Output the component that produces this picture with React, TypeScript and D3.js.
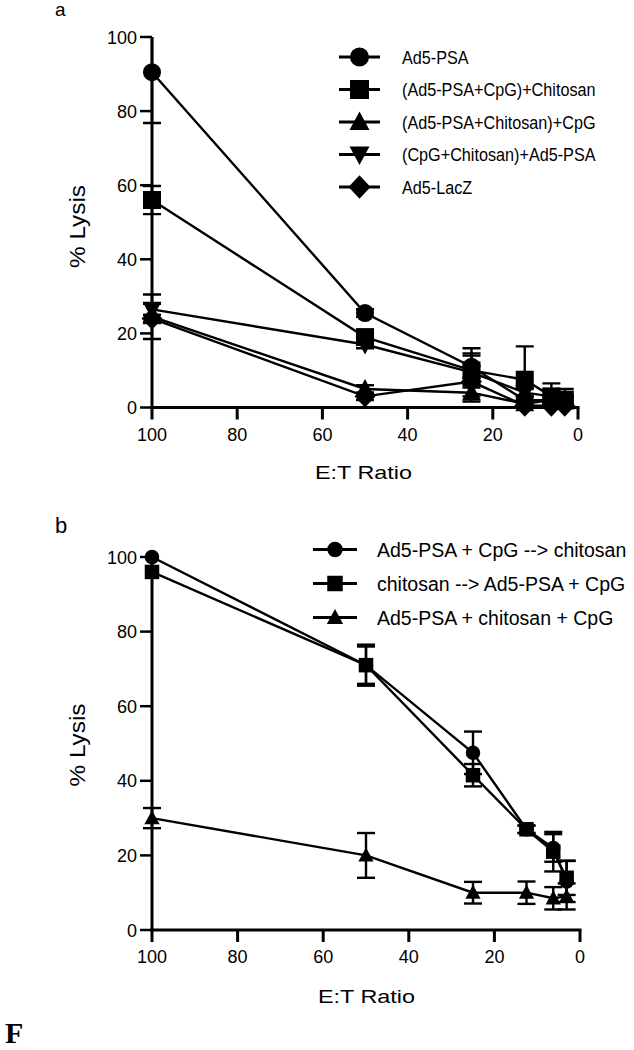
import React from 'react';
import * as d3 from 'd3';

// ---------- DATA ----------
const ratios = [100, 50, 25, 12.5, 6.25, 3.125];
const xTicks = [100, 80, 60, 40, 20, 0];
const yTicks = [0, 20, 40, 60, 80, 100];

// Panel a
const namesA = ['Ad5-PSA', '(Ad5-PSA+CpG)+Chitosan', '(Ad5-PSA+Chitosan)+CpG', '(CpG+Chitosan)+Ad5-PSA', 'Ad5-LacZ'];
const shapesA = ['circle', 'square', 'triangle', 'triangleDown', 'diamond'];
const aAd5PSA = [90.5, 25.5, 11, 2, 2, 2];
const aAd5PSAErr = [13.7, 1, 3, 1, 1, 1];
const aPsaCpgChit = [56, 19, 10, 7.5, 3, 2];
const aPsaCpgChitErr = [3.8, 1, 4.6, 9, 1.5, 1];
const aPsaChitCpg = [24.5, 5, 4, 1, 2, 1.5];
const aPsaChitCpgErr = [6, 1, 2.4, 1, 1, 1];
const aCpgChitPsa = [26.5, 17, 9.5, 4, 3, 2.5];
const aCpgChitPsaErr = [1.5, 1, 6.5, 1, 3.5, 1];
const aLacZ = [24, 3, 7, 0.5, 0.5, 0.5];
const aLacZErr = [1, 1, 1, 1, 1, 4.5];

// Panel b
const namesB = ['Ad5-PSA + CpG --> chitosan', 'chitosan --> Ad5-PSA + CpG', 'Ad5-PSA + chitosan + CpG'];
const shapesB = ['circle', 'square', 'triangle'];
const bPsaCpgChit = [100, 71, 47.5, 27, 22, 13];
const bPsaCpgChitErr = [0, 5, 5.7, 1, 3.7, 5.5];
const bChitPsaCpg = [96, 71, 41.5, 27, 21, 14];
const bChitPsaCpgErr = [0, 5.5, 3, 1, 5.3, 4.6];
const bPsaChitCpg = [30, 20, 10, 10, 8.5, 9];
const bPsaChitCpgErr = [2.7, 6, 2.9, 3, 3, 3.5];

const seriesA = [
  { name: namesA[0], shape: shapesA[0], values: aAd5PSA, errs: aAd5PSAErr },
  { name: namesA[1], shape: shapesA[1], values: aPsaCpgChit, errs: aPsaCpgChitErr },
  { name: namesA[2], shape: shapesA[2], values: aPsaChitCpg, errs: aPsaChitCpgErr },
  { name: namesA[3], shape: shapesA[3], values: aCpgChitPsa, errs: aCpgChitPsaErr },
  { name: namesA[4], shape: shapesA[4], values: aLacZ, errs: aLacZErr },
];
const seriesB = [
  { name: namesB[0], shape: shapesB[0], values: bPsaCpgChit, errs: bPsaCpgChitErr },
  { name: namesB[1], shape: shapesB[1], values: bChitPsaCpg, errs: bChitPsaCpgErr },
  { name: namesB[2], shape: shapesB[2], values: bPsaChitCpg, errs: bPsaChitCpgErr },
];

const FONT = 'Liberation Sans, Arial, Helvetica, sans-serif';

function Marker({ shape, x, y, s }: { shape: string; x: number; y: number; s: number }) {
  const h = s / 2;
  if (shape === 'circle') return <circle cx={x} cy={y} r={h} fill="#000" />;
  if (shape === 'square') return <rect x={x - h} y={y - h} width={s} height={s} fill="#000" />;
  if (shape === 'triangle')
    return <path d={`M${x},${y - s * 0.55}L${x + h * 1.05},${y + s * 0.42}L${x - h * 1.05},${y + s * 0.42}Z`} fill="#000" />;
  if (shape === 'triangleDown')
    return <path d={`M${x},${y + s * 0.55}L${x + h * 1.05},${y - s * 0.42}L${x - h * 1.05},${y - s * 0.42}Z`} fill="#000" />;
  return <path d={`M${x},${y - s * 0.62}L${x + s * 0.58},${y}L${x},${y + s * 0.62}L${x - s * 0.58},${y}Z`} fill="#000" />;
}

type Series = { name: string; shape: string; values: number[]; errs: number[] };

function Panel({
  id, series, x0, x1, yTop, yBot, markerSize, capW,
}: {
  id: string; series: Series[]; x0: number; x1: number; yTop: number; yBot: number; markerSize: number; capW: number;
}) {
  const x = d3.scaleLinear().domain([100, 0]).range([x0, x1]);
  const y = d3.scaleLinear().domain([0, 100]).range([yBot, yTop]);
  const line = d3.line<number>().x((_, i) => x(ratios[i])).y((d) => y(d));
  return (
    <g>
      <defs>
        <clipPath id={`clip-${id}`}>
          <rect x={0} y={yTop} width={634} height={yBot - yTop + 1} />
        </clipPath>
      </defs>
      {/* axes */}
      <line x1={x0} x2={x0} y1={yTop} y2={yBot + 1.5} stroke="#000" strokeWidth={3} />
      <line x1={x0 - 1.5} x2={x1 + 1.5} y1={yBot} y2={yBot} stroke="#000" strokeWidth={3} />
      {yTicks.map((t) => (
        <g key={`y${t}`}>
          <line x1={x0 - 12} x2={x0} y1={y(t)} y2={y(t)} stroke="#000" strokeWidth={2.5} />
          <text x={x0 - 15} y={y(t) + 6.5} textAnchor="end" fontSize={18} fontFamily={FONT}>{t}</text>
        </g>
      ))}
      {xTicks.map((t) => (
        <g key={`x${t}`}>
          <line x1={x(t)} x2={x(t)} y1={yBot} y2={yBot + 12} stroke="#000" strokeWidth={3} />
          <text x={x(t)} y={yBot + 33} textAnchor="middle" fontSize={18} fontFamily={FONT}>{t}</text>
        </g>
      ))}
      {series.map((s) => (
        <g key={s.name}>
          <path d={line(s.values) || ''} fill="none" stroke="#000" strokeWidth={2.4} />
          <g clipPath={`url(#clip-${id})`}>
            {s.values.map((v, i) =>
              s.errs[i] > 0 ? (
                <g key={i}>
                  <line x1={x(ratios[i])} x2={x(ratios[i])} y1={y(v + s.errs[i])} y2={y(v - s.errs[i])} stroke="#000" strokeWidth={2.4} />
                  <line x1={x(ratios[i]) - capW / 2} x2={x(ratios[i]) + capW / 2} y1={y(v + s.errs[i])} y2={y(v + s.errs[i])} stroke="#000" strokeWidth={2.4} />
                  <line x1={x(ratios[i]) - capW / 2} x2={x(ratios[i]) + capW / 2} y1={y(v - s.errs[i])} y2={y(v - s.errs[i])} stroke="#000" strokeWidth={2.4} />
                </g>
              ) : null
            )}
          </g>
          {s.values.map((v, i) => (
            <Marker key={i} shape={s.shape} x={x(ratios[i])} y={y(v)} s={markerSize} />
          ))}
        </g>
      ))}
    </g>
  );
}

export default function App() {
  const legA = { lx0: 339, lx1: 380, tx: 402, y0: 57, dy: 32.5 };
  const legB = { lx0: 313, lx1: 357, tx: 377, y0: 549.5, dy: 34 };
  return (
    <svg width={634} height={1050} style={{ position: 'absolute', left: 0, top: 0, background: '#fff' }}>
      <rect x={0} y={0} width={634} height={1050} fill="#fff" />
      <text x={55} y={16} fontSize={19} fontFamily={FONT}>a</text>
      <text x={55} y={533} fontSize={22} fontFamily={FONT}>b</text>
      <text x={5} y={1043} fontSize={30} fontWeight="bold" fontFamily="Liberation Serif, Times New Roman, serif">F</text>

      <Panel id="a" series={seriesA} x0={152} x1={578} yTop={37} yBot={407.5} markerSize={18} capW={18} />
      <Panel id="b" series={seriesB} x0={152} x1={580} yTop={557} yBot={930} markerSize={14.5} capW={18} />

      {/* axis titles */}
      <text transform="translate(85,226.5) rotate(-90)" textAnchor="middle" fontSize={22} fontFamily={FONT} textLength={83} lengthAdjust="spacingAndGlyphs">% Lysis</text>
      <text transform="translate(85,745) rotate(-90)" textAnchor="middle" fontSize={22} fontFamily={FONT} textLength={83} lengthAdjust="spacingAndGlyphs">% Lysis</text>
      <text x={315} y={479} fontSize={18.5} fontFamily={FONT} textLength={97} lengthAdjust="spacingAndGlyphs">E:T Ratio</text>
      <text x={318} y={1003} fontSize={18.5} fontFamily={FONT} textLength={97} lengthAdjust="spacingAndGlyphs">E:T Ratio</text>

      {/* legend a */}
      {seriesA.map((s, i) => {
        const cy = legA.y0 + i * legA.dy;
        return (
          <g key={s.name}>
            <line x1={legA.lx0} x2={legA.lx1} y1={cy} y2={cy} stroke="#000" strokeWidth={3} />
            <Marker shape={s.shape} x={(legA.lx0 + legA.lx1) / 2} y={cy} s={19} />
            <g transform={`translate(${legA.tx},${cy + 6.8}) scale(0.876,1)`}>
              <text x={0} y={0} fontSize={18.5} fontFamily={FONT}>{s.name}</text>
            </g>
          </g>
        );
      })}

      {/* legend b */}
      {seriesB.map((s, i) => {
        const cy = legB.y0 + i * legB.dy;
        return (
          <g key={s.name}>
            <line x1={legB.lx0} x2={legB.lx1} y1={cy} y2={cy} stroke="#000" strokeWidth={3} />
            <Marker shape={s.shape} x={(legB.lx0 + legB.lx1) / 2} y={cy} s={15.5} />
            <text x={legB.tx} y={cy + 7} fontSize={19.5} fontFamily={FONT}>{s.name}</text>
          </g>
        );
      })}
    </svg>
  );
}
